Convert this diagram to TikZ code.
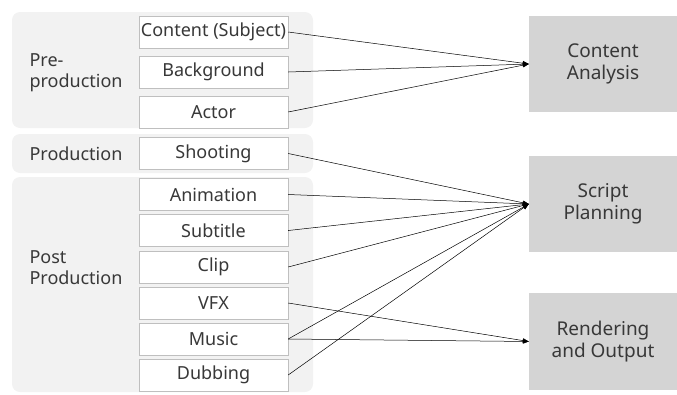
\documentclass[tikz,border=0pt]{standalone}
\usepackage{fontspec}
\setmainfont{Noto Sans}
\usetikzlibrary{arrows.meta}
\definecolor{grpfill}{HTML}{F2F2F2}
\definecolor{boxline}{HTML}{BFBFBF}
\definecolor{stagefill}{HTML}{D4D4D4}
\definecolor{txt}{HTML}{383838}
\begin{document}
\begin{tikzpicture}
  [x=1pt,y=-1pt,
   every node/.style=
     {text=txt,font=\fontsize{18}{21}\selectfont},
   group/.style=
     {fill=grpfill,rounded corners=8pt,minimum width=301pt},
   task/.style=
     {draw=boxline,fill=white,minimum width=149pt,minimum height=32pt,inner sep=0pt},
   stage/.style=
     {fill=stagefill,minimum width=148pt,minimum height=96pt,align=center,
      font=\fontsize{19}{21.5}\selectfont},
   feed/.style=
     {draw=black,line width=0.5pt,-{Triangle[length=6pt,width=4.5pt]}}
  ]
  \useasboundingbox (0,0) rectangle (677,394);
  \node[group,minimum height=116pt] (pre) at (162.5,70) {};
  \node[group,minimum height=39pt] (prod) at (162.5,153.5) {};
  \node[group,minimum height=215pt] (post) at (162.5,284.5) {};
  \node[anchor=west,align=left] (prelabel) at (26,73) {Pre-\\production};
  \node[anchor=west] (prodlabel) at (26,153.5) {Production};
  \node[anchor=west,align=left] (postlabel) at (26,268) {Post\\Production};
  \node[task] (cs) at (213.5,32) {Content (Subject)};
  \node[task] (bg) at (213.5,72) {Background};
  \node[task] (act) at (213.5,112) {Actor};
  \node[task] (shoot) at (213.5,153.5) {Shooting};
  \node[task] (anim) at (213.5,194.5) {Animation};
  \node[task] (sub) at (213.5,230.5) {Subtitle};
  \node[task] (clip) at (213.5,267) {Clip};
  \node[task] (vfx) at (213.5,303) {VFX};
  \node[task] (music) at (213.5,339) {Music};
  \node[task] (dub) at (213.5,375) {Dubbing};
  \node[stage] (ca) at (603,64) {Content\\Analysis};
  \node[stage] (sp) at (603,204) {Script\\Planning};
  \node[stage,minimum height=97pt] (ro) at (603,341.5) {Rendering\\and Output};
  \draw[feed] (cs.east) -- (ca.west);
  \draw[feed] (bg.east) -- (ca.west);
  \draw[feed] (act.east) -- (ca.west);
  \draw[feed] (shoot.east) -- (sp.west);
  \draw[feed] (anim.east) -- (sp.west);
  \draw[feed] (sub.east) -- (sp.west);
  \draw[feed] (clip.east) -- (sp.west);
  \draw[feed] (vfx.east) -- (ro.west);
  \draw[feed] (music.east) -- (sp.west);
  \draw[feed] (music.east) -- (ro.west);
  \draw[feed] (dub.east) -- (sp.west);
\end{tikzpicture}
\end{document}
